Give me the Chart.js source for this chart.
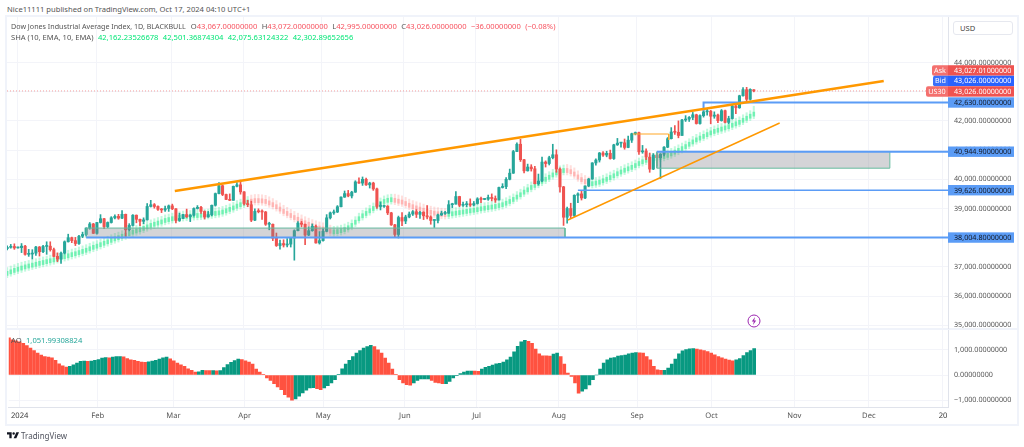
<!DOCTYPE html>
<html>
<head>
<meta charset="utf-8">
<title>US30 daily</title>
<script src="https://cdn.jsdelivr.net/npm/chart.js@4/dist/chart.umd.min.js"></script>
<style>
  html, body { margin: 0; padding: 0; background: #fff; }
  body { position: relative; width: 1024px; height: 447px; overflow: hidden; font-family: "Noto Sans", sans-serif; font-size: 7.6px; color: #555; }
  canvas { position: absolute; left: 7px; }
  #main { top: 17px; }
  #ao { top: 330px; }
  .frame { position: absolute; background: #f0f3fa; }
  .txt { position: absolute; white-space: nowrap; line-height: 10px; z-index: 2; }
  .txt span { margin-left: 4.4px; }
  .red { color: #f7525f; }
  .green { color: #00e676; }
  .teal { color: #26a69a; }
  #usd { position: absolute; left: 953px; top: 21px; width: 60px; height: 14px; box-sizing: border-box; border: 1px solid #e6e8ef; border-radius: 3px; padding-left: 6px; line-height: 12px; color: #444; }
  #bolt { position: absolute; left: 747px; top: 314px; z-index: 2; }
  #logo { position: absolute; left: 7px; top: 432px; }
</style>
</head>
<body>
<div class="frame" style="left:5px;top:15px;width:1014px;height:2px"></div>
<div class="frame" style="left:5px;top:15px;width:2px;height:411px"></div>
<div class="frame" style="left:1017px;top:15px;width:2px;height:411px"></div>
<div class="frame" style="left:5px;top:424px;width:1014px;height:2px"></div>
<div class="frame" style="left:7px;top:328px;width:1010px;height:2px"></div>

<div class="txt" style="left:7px;top:4px">Nice11111 published on TradingView.com, Oct 17, 2024 04:10 UTC+1</div>
<div class="txt" style="left:11px;top:21px"><span style="margin-left:0;font-size:7.15px">Dow Jones Industrial Average Index, 1D, BLACKBULL</span><span style="margin-left:5px">O</span><span class="red" style="margin-left:0">43,067.00000000</span><span>H</span><span class="red" style="margin-left:0">43,072.00000000</span><span>L</span><span class="red" style="margin-left:0">42,995.00000000</span><span>C</span><span class="red" style="margin-left:0">43,026.00000000</span><span class="red">−36.00000000</span><span class="red">(−0.08%)</span></div>
<div class="txt" style="left:11px;top:32px">SHA (10, EMA, 10, EMA)<span class="green">42,162.23526678</span><span class="green">42,501.36874304</span><span class="green">42,075.63124322</span><span class="green">42,302.89652656</span></div>
<div class="txt" style="left:11px;top:335px">AO<span class="teal">1,051.99308824</span></div>
<div id="usd">USD</div>
<svg id="bolt" width="14" height="14" viewBox="0 0 14 14"><circle cx="7" cy="7" r="6" fill="#fff" stroke="#9c27b0" stroke-width="1"/><path d="M8 3 L4.8 7.6 H6.8 L6 11 L9.2 6.4 H7.2 Z" fill="#9c27b0"/></svg>
<svg id="logo" width="12" height="7" viewBox="0 0 36 20"><path d="M0 0 H14 V18 H7 V7 H0 Z" fill="#131722"/><circle cx="20" cy="4" r="3.6" fill="#131722"/><path d="M28 0 H36 L28 18 H20 Z" fill="#131722"/></svg>
<div class="txt" style="left:21px;top:431px;font-size:8px;color:#50535e">TradingView</div>

<canvas id="main" width="1010" height="312"></canvas>
<canvas id="ao" width="1010" height="94"></canvas>

<script>
// month labels on the time axis, positions are in bar numbers
const tickBars = [3, 24.8, 45.9, 65.8, 87.7, 110.5, 130.5, 153.5, 175.3, 196.1, 219.2, 240, 260.7];
const tickLabels = ['2024', 'Feb', 'Mar', 'Apr', 'May', 'Jun', 'Jul', 'Aug', 'Sep', 'Oct', 'Nov', 'Dec', '20'];
const priceTicks = [35000, 36000, 37000, 38000, 39000, 40000, 41000, 42000, 43000, 44000];
const aoTicks = [-1000, 0, 1000];

// daily candles
const candleOpen = [37620,37670,37700,37650,37660,37710,37430,37440,37470,37680,37520,37700,37710,37590,37360,37270,37470,37860,38000,37900,37800,38050,38110,38330,38470,38150,38520,38650,38380,38520,38680,38730,38670,38800,38270,38420,38770,38630,38560,38610,39070,39130,39070,38970,38950,39000,39090,38990,38590,38660,38790,38720,38770,39000,39040,38900,38710,38790,39110,39510,39780,39480,39310,39280,39760,39810,39570,39170,39130,38600,38900,38890,38880,38460,38460,37980,37730,37800,37750,37780,37990,38240,38500,38460,38090,38240,38390,37820,37900,38220,38680,38850,38880,39060,39390,39510,39430,39560,39910,39870,40000,39810,39870,39670,39070,39070,39080,38850,38440,38110,38690,38570,38710,38810,38890,38800,38870,38750,38710,38590,38590,38780,38830,38840,39130,39150,39410,39110,39130,39160,39120,39170,39330,39310,39320,39380,39340,39290,39720,39750,40000,40210,40950,41200,40670,40290,40420,40360,39850,39940,40590,40540,40740,40840,40350,39740,38700,39000,38760,39450,39500,39360,39770,40010,40560,40660,40900,40830,40890,40710,41180,41240,41250,41090,41340,41560,41600,40940,40970,40760,40350,40830,40740,40860,41100,41390,41620,41610,41500,42030,42060,42120,42210,41910,42180,42310,42330,42160,42200,42010,42350,41950,42080,42510,42450,42860,43070,42740,43067];
const candleClose = [37670,37700,37650,37660,37710,37430,37450,37470,37680,37520,37700,37710,37590,37360,37270,37470,37860,38000,37900,37800,38050,38110,38330,38470,38150,38520,38650,38380,38520,38680,38730,38670,38800,38270,38420,38770,38630,38560,38610,39070,39130,39070,38970,38950,39000,39090,38990,38590,38660,38790,38720,38770,39000,39040,38900,38710,38790,39110,39510,39780,39480,39310,39280,39760,39810,39570,39170,39130,38600,38900,38890,38880,38460,38460,37980,37730,37800,37750,37780,37990,38240,38500,38460,38090,38240,38390,37820,37900,38220,38680,38850,38880,39060,39390,39510,39430,39560,39910,39870,40000,39810,39870,39670,39070,39070,39080,38850,38440,38110,38690,38570,38710,38810,38890,38800,38870,38750,38710,38590,38590,38780,38830,38840,39130,39150,39410,39110,39130,39160,39120,39170,39330,39310,39320,39380,39340,39290,39720,39750,40000,40210,40950,41200,40670,40290,40420,40360,39850,39940,40590,40540,40740,40840,40350,39740,38700,39000,38760,39450,39500,39360,39770,40010,40560,40660,40900,40830,40890,40710,41180,41240,41250,41090,41340,41560,41600,40940,40970,40760,40350,40830,40740,40860,41100,41390,41620,41610,41500,42030,42060,42120,42210,41910,42180,42310,42330,42160,42200,42010,42350,41950,42080,42510,42450,42860,43070,42740,43080,43026];
const candleHigh = [37720,37770,37790,37680,37800,37740,37600,37590,37700,37700,37740,37860,37860,37640,37480,37510,37890,38120,38020,38010,38080,38190,38340,38520,38490,38530,38790,38660,38540,38720,38780,38800,38930,38810,38480,38790,38780,38640,38680,39170,39280,39170,39090,39000,39080,39120,39150,39000,38840,38800,38980,38790,39020,39100,39070,38920,38900,39120,39530,39890,39800,39490,39500,39770,39890,39970,39580,39280,39250,38990,38990,38950,38900,38530,38470,38160,37920,37930,37970,38010,38270,38550,38560,38470,38370,38470,38430,38210,38300,38790,38880,38950,39100,39400,39600,39620,39590,39950,40050,40080,40040,39900,39900,39700,39220,39120,39100,38870,38460,38740,38860,38770,38880,38930,38960,38900,38890,39100,38750,38620,38810,38910,38900,39270,39180,39580,39420,39220,39240,39330,39240,39370,39390,39340,39460,39500,39430,39730,39850,40060,40350,40990,41250,41370,40680,40520,40500,40440,40180,40760,40630,40790,41200,41010,40390,39760,39050,39180,39470,39540,39620,39780,40030,40570,40700,40920,40950,40960,41000,41200,41400,41270,41380,41480,41580,41620,41620,41160,41040,40900,40880,40900,40880,41120,41430,41770,41840,42000,42050,42180,42150,42290,42230,42210,42350,42400,42360,42310,42230,42390,42370,42160,42530,42550,42880,43140,43150,43100,43072];
const candleLow = [37580,37640,37600,37640,37490,37400,37360,37270,37390,37370,37490,37430,37540,37340,37180,37120,37440,37850,37830,37730,37770,38000,38060,38290,38140,38120,38500,38310,38340,38500,38640,38630,38650,38050,38230,38400,38510,38410,38480,38600,39050,39010,38930,38860,38900,38900,38960,38510,38560,38650,38690,38550,38740,38980,38830,38640,38700,38750,39080,39500,39440,39300,39270,39280,39740,39490,39120,39060,38550,38580,38850,38630,38420,38270,37900,37700,37610,37680,37680,37680,37230,38230,38370,37760,38070,38220,37810,37780,37880,38200,38640,38800,38860,39050,39380,39400,39360,39550,39860,39790,39790,39700,39620,39000,38950,39040,38790,38420,38010,37990,38410,38480,38680,38760,38690,38660,38620,38640,38460,38350,38510,38760,38800,38830,39030,39150,39060,39070,39060,39070,39090,39150,39200,39300,39280,39260,39210,39290,39700,39680,39980,40200,40950,40610,40220,40280,40280,39840,39800,39920,40420,40490,40700,40240,39560,38420,38500,38650,38720,39200,39290,39340,39750,40000,40480,40590,40780,40770,40690,40680,41160,41100,41030,41080,41260,41520,40850,40890,40670,40240,40330,40460,40030,40800,41080,41380,41540,41420,41500,41980,41980,42040,41890,41890,42130,42200,41900,42090,41940,41990,41930,41900,42060,42250,42430,42850,42690,42710,42995];

// smoothed heikin ashi overlay
const shaOpen = [36710,36760,36810,36850,36890,36930,36960,36990,37020,37050,37080,37110,37140,37170,37210,37250,37280,37310,37350,37380,37420,37460,37500,37550,37600,37640,37690,37740,37790,37840,37890,37930,37980,38020,38070,38120,38160,38200,38250,38300,38350,38390,38430,38470,38520,38550,38580,38610,38630,38650,38660,38670,38680,38690,38700,38710,38720,38740,38760,38780,38810,38850,38900,38950,39010,39060,39110,39150,39320,39340,39340,39330,39310,39260,39200,39130,39050,38970,38900,38830,38760,38700,38640,38580,38530,38480,38440,38400,38370,38350,38290,38130,38140,38170,38210,38270,38350,38460,38580,38680,38760,38850,38930,39020,39100,39170,39210,39230,39350,39320,39290,39240,39180,39130,39090,39050,39010,38970,38940,38910,38890,38870,38860,38730,38750,38770,38790,38810,38830,38850,38870,38890,38920,38940,38960,38980,39000,39030,39060,39110,39170,39240,39320,39400,39490,39570,39650,39720,39790,39860,39930,40000,40080,40150,40200,40230,40370,40330,40250,40150,40060,39990,39940,39780,39800,39830,39880,39930,39990,40050,40120,40180,40240,40290,40340,40400,40470,40530,40580,40610,40630,40650,40680,40710,40750,40800,40860,40920,40980,41050,41130,41210,41280,41340,41400,41460,41520,41570,41610,41650,41690,41730,41780,41830,41880,41950,42020,42090,42162];
const shaClose = [36850,36900,36950,36990,37030,37070,37100,37130,37160,37190,37220,37250,37280,37310,37350,37390,37420,37450,37490,37520,37560,37600,37640,37690,37740,37780,37830,37880,37930,37980,38030,38070,38120,38160,38210,38260,38300,38340,38390,38440,38490,38530,38570,38610,38660,38690,38720,38750,38770,38790,38800,38810,38820,38830,38840,38850,38860,38880,38900,38920,38950,38990,39040,39090,39150,39200,39250,39290,39180,39200,39200,39190,39170,39120,39060,38990,38910,38830,38760,38690,38620,38560,38500,38440,38390,38340,38300,38260,38230,38210,38150,38270,38280,38310,38350,38410,38490,38600,38720,38820,38900,38990,39070,39160,39240,39310,39350,39370,39210,39180,39150,39100,39040,38990,38950,38910,38870,38830,38800,38770,38750,38730,38720,38870,38890,38910,38930,38950,38970,38990,39010,39030,39060,39080,39100,39120,39140,39170,39200,39250,39310,39380,39460,39540,39630,39710,39790,39860,39930,40000,40070,40140,40220,40290,40340,40370,40230,40190,40110,40010,39920,39850,39800,39920,39940,39970,40020,40070,40130,40190,40260,40320,40380,40430,40480,40540,40610,40670,40720,40750,40770,40790,40820,40850,40890,40940,41000,41060,41120,41190,41270,41350,41420,41480,41540,41600,41660,41710,41750,41790,41830,41870,41920,41970,42020,42090,42160,42230,42302];
const shaHigh = [36980,37030,37080,37120,37160,37190,37220,37250,37280,37310,37340,37370,37400,37430,37470,37510,37540,37570,37610,37640,37680,37720,37760,37810,37860,37900,37950,38000,38050,38100,38150,38190,38240,38280,38330,38380,38420,38460,38510,38560,38610,38650,38690,38730,38780,38810,38840,38870,38890,38910,38920,38930,38940,38950,38960,38970,38980,39000,39020,39040,39070,39110,39160,39210,39270,39320,39370,39410,39460,39480,39480,39470,39450,39400,39340,39270,39190,39110,39040,38970,38900,38840,38780,38720,38670,38620,38580,38540,38510,38490,38430,38390,38400,38430,38470,38530,38610,38720,38840,38940,39020,39110,39190,39280,39360,39430,39470,39490,39490,39460,39430,39380,39320,39270,39230,39190,39150,39110,39080,39050,39030,39010,39000,38990,39010,39030,39050,39070,39090,39110,39130,39150,39180,39200,39220,39240,39260,39290,39320,39370,39430,39500,39580,39660,39750,39830,39910,39980,40050,40120,40190,40260,40340,40410,40460,40490,40510,40470,40390,40290,40200,40130,40080,40040,40060,40090,40140,40190,40250,40310,40380,40440,40500,40550,40600,40660,40730,40790,40840,40870,40890,40910,40940,40970,41010,41060,41120,41180,41240,41310,41390,41470,41540,41600,41660,41720,41780,41830,41870,41910,41950,41990,42040,42090,42140,42210,42280,42350,42501];
const shaLow = [36630,36680,36730,36770,36810,36850,36880,36910,36940,36970,37000,37030,37060,37090,37130,37170,37200,37230,37270,37300,37340,37380,37420,37470,37520,37560,37610,37660,37710,37760,37810,37850,37900,37940,37990,38040,38080,38120,38170,38220,38270,38310,38350,38390,38440,38470,38500,38530,38550,38570,38580,38590,38600,38610,38620,38630,38640,38660,38680,38700,38730,38770,38820,38870,38930,38980,39030,39070,39100,39120,39120,39110,39090,39040,38980,38910,38830,38750,38680,38610,38540,38480,38420,38360,38310,38260,38220,38180,38150,38130,38070,38050,38060,38090,38130,38190,38270,38380,38500,38600,38680,38770,38850,38940,39020,39090,39130,39150,39130,39100,39070,39020,38960,38910,38870,38830,38790,38750,38720,38690,38670,38650,38640,38650,38670,38690,38710,38730,38750,38770,38790,38810,38840,38860,38880,38900,38920,38950,38980,39030,39090,39160,39240,39320,39410,39490,39570,39640,39710,39780,39850,39920,40000,40070,40120,40150,40150,40110,40030,39930,39840,39770,39720,39700,39720,39750,39800,39850,39910,39970,40040,40100,40160,40210,40260,40320,40390,40450,40500,40530,40550,40570,40600,40630,40670,40720,40780,40840,40900,40970,41050,41130,41200,41260,41320,41380,41440,41490,41530,41570,41610,41650,41700,41750,41800,41870,41940,42010,42075];

// awesome oscillator
const aoValues = [1478,1400,1360,1320,1267,1175,1070,977,871,792,739,713,686,581,449,370,317,343,409,475,541,554,541,554,581,620,673,700,686,713,739,739,726,660,607,581,541,515,510,528,554,581,634,686,713,647,568,475,409,343,251,185,119,132,185,180,175,178,170,180,300,420,510,580,634,620,568,515,435,238,119,13,-119,-211,-343,-475,-580,-779,-884,-1003,-950,-845,-713,-607,-515,-502,-541,-580,-515,-422,-317,-185,13,251,435,581,739,871,977,1070,1135,1188,1135,1003,871,673,475,238,13,-185,-317,-383,-409,-317,-211,-158,-157,-156,-211,-290,-317,-343,-340,-250,-119,-26,53,119,158,160,155,150,238,304,343,396,449,462,515,607,713,924,1148,1320,1386,1346,1267,1030,845,766,760,755,832,871,739,435,79,-53,-317,-726,-647,-554,-396,-185,0,238,475,607,673,700,752,779,792,845,871,898,884,871,739,607,343,211,185,190,277,435,634,845,964,1016,1043,1056,1030,1003,977,937,871,805,739,686,634,594,568,607,660,779,898,977,1052];

// drawings on the price pane, x in bar numbers and y in price
const trendMain = [{ x: 46.7, y: 39599 }, { x: 244.2, y: 43366 }];
const trendLow = [{ x: 156.2, y: 38606 }, { x: 215.2, y: 41928 }];
const shortRange = [{ x: 174.3, y: 41551 }, { x: 184.3, y: 41551 }, { x: 184.3, y: 41346 }];
const level38004 = [{ x: 22, y: 38004.8 }, { x: 262.1, y: 38004.8 }];
const level39626 = [{ x: 159, y: 39626 }, { x: 262.1, y: 39626 }];
const level40944 = [{ x: 181, y: 40944.9 }, { x: 262.1, y: 40944.9 }];
const level42630 = [{ x: 194, y: 42339 }, { x: 194, y: 42630 }, { x: 262.1, y: 42630 }];
const lastPrice = [{ x: -0.05, y: 43026 }, { x: 262.1, y: 43026 }];
const zoneLeftTop = [{ x: 22, y: 38330 }, { x: 155.4, y: 38330 }];
const zoneLeftEdge = [{ x: 22, y: 38005 }, { x: 22, y: 38330 }, { x: 155.4, y: 38330 }, { x: 155.4, y: 38005 }];
const zoneRightTop = [{ x: 181, y: 40944.9 }, { x: 245.9, y: 40944.9 }];
const zoneRightEdge = [{ x: 181, y: 40945 }, { x: 181, y: 40380 }, { x: 245.9, y: 40380 }, { x: 245.9, y: 40945 }];

// price tags on the axis
const tagValues = [43026, 43026, 43026, 42630, 40944.9, 39626, 38004.8];
const tagTexts = ['43,027.01000000', '43,026.00000000', '43,026.00000000', '42,630.00000000', '40,944.90000000', '39,626.00000000', '38,004.80000000'];
const tagChips = ['Ask', 'Bid', 'US30', '', '', '', ''];

const GREEN = '#26a69a', RED = '#ef5350';
const FONT = '"Noto Sans", sans-serif';
const AXIS_FONT = { size: 7.2 };
Chart.defaults.font.family = FONT;
Chart.defaults.font.size = 7.6;
Chart.defaults.animation = false;

// keep canvas text spacing the same as the page text
Chart.register({
  id: 'preciseText',
  beforeDraw(chart) { chart.ctx.textRendering = 'geometricPrecision'; }
});

const candleColor = i => candleClose[i] >= candleOpen[i] ? GREEN : RED;
const shaUp = i => shaClose[i] >= shaOpen[i];

function floatBars(lo, hi, color, thickness, order) {
  return {
    type: 'bar',
    data: lo.map((v, i) => ({ x: i, y: [v, hi[i]] })),
    backgroundColor: lo.map((v, i) => color(i)),
    barThickness: thickness,
    grouped: false,
    minBarLength: 1,
    order
  };
}

function drawing(points, color, width, order, extra) {
  return Object.assign({ type: 'line', data: points, borderColor: color, borderWidth: width, pointRadius: 0, tension: 0, fill: false, order }, extra);
}

function moneyLabel(v) {
  return (v < 0 ? '−' : '') + Math.abs(v).toLocaleString('en-US', { minimumFractionDigits: 8, maximumFractionDigits: 8 });
}

function setTicks(values) {
  return scale => { scale.ticks = values.map(value => ({ value })); };
}

// fixed axis strip, and no room kept for half labels at the pane ends
const axisRight = scale => {
  scale.width = 69;
  scale.paddingTop = 0;
  scale.paddingBottom = 0;
};
const GRID = '#f3f4f9';

// paints the coloured labels next to and on the price axis
const priceTags = {
  id: 'priceTags',
  afterDraw(chart) {
    const { ctx, chartArea, scales } = chart;
    const tagFill = ['#ef5350', '#2962ff', '#ef5350', '#5b9cf6', '#5b9cf6', '#5b9cf6', '#5b9cf6'];
    const chipFill = ['#f4706e', '#3a6ffa', '#f4706e'];
    const chipWidth = [16, 15, 22];
    const lift = [-20.5, -10, 0.5, 0, 0, 0, 0];
    ctx.save();
    ctx.font = '7.2px ' + FONT;
    ctx.textBaseline = 'middle';
    tagValues.forEach((v, i) => {
      const y = scales.y.getPixelForValue(v) + lift[i];
      const x = chartArea.right;
      ctx.fillStyle = tagFill[i];
      ctx.fillRect(x, y - 5.2, 66, 10.4);
      ctx.fillStyle = i < 3 ? '#fff' : '#131722';
      ctx.textAlign = 'left';
      ctx.fillText(tagTexts[i], x + 6, y + 0.3);
      if (tagChips[i]) {
        ctx.fillStyle = chipFill[i];
        ctx.beginPath();
        ctx.roundRect(x - chipWidth[i], y - 5.2, chipWidth[i], 10.4, [2, 0, 0, 2]);
        ctx.fill();
        ctx.fillStyle = '#fff';
        ctx.textAlign = 'center';
        ctx.fillText(tagChips[i], x - chipWidth[i] / 2, y + 0.3);
      }
    });
    ctx.restore();
  }
};

const xRange = { min: -0.05, max: 262.1 };

new Chart(document.getElementById('main'), {
  type: 'bar',
  data: {
    datasets: [
      // price overlays
      drawing(trendMain, '#ff9800', 2.6, 1),
      drawing(trendLow, '#ff9800', 1.4, 1),
      drawing(shortRange, '#ffa726', 1, 1),
      drawing(level38004, '#5b9cf6', 2, 1),
      drawing(level39626, '#5b9cf6', 1.6, 1),
      drawing(level40944, '#5b9cf6', 2, 1),
      drawing(level42630, '#5b9cf6', 2, 1),
      drawing(lastPrice, 'rgba(239,83,80,0.55)', 1, 1, { borderDash: [1, 2] }),
      drawing(zoneLeftEdge, '#66bb9f', 1, 2),
      drawing(zoneRightEdge, '#66bb9f', 1, 2),
      drawing(zoneLeftTop, 'transparent', 0, 3, { fill: { value: 38005 }, backgroundColor: 'rgba(130,130,138,0.34)' }),
      drawing(zoneRightTop, 'transparent', 0, 3, { fill: { value: 40380 }, backgroundColor: 'rgba(130,130,138,0.34)' }),
      // candles
      floatBars(candleOpen.map((v, i) => Math.min(v, candleClose[i])), candleOpen.map((v, i) => Math.max(v, candleClose[i])), candleColor, 2.4, 5),
      floatBars(candleLow, candleHigh, candleColor, 1, 6),
      // smoothed heikin ashi
      floatBars(shaOpen.map((v, i) => Math.min(v, shaClose[i])), shaOpen.map((v, i) => Math.max(v, shaClose[i])), i => shaUp(i) ? 'rgba(0,230,118,0.42)' : 'rgba(255,82,82,0.3)', 2, 7),
      floatBars(shaLow, shaHigh, i => shaUp(i) ? 'rgba(105,240,174,0.42)' : 'rgba(255,138,128,0.28)', 1.4, 8)
    ]
  },
  options: {
    responsive: false,
    devicePixelRatio: 1,
    layout: { padding: 0 },
    plugins: { legend: { display: false }, tooltip: { enabled: false } },
    scales: {
      x: {
        type: 'linear', offset: false, min: xRange.min, max: xRange.max,
        afterBuildTicks: setTicks(tickBars),
        ticks: { display: false, autoSkip: false },
        grid: { color: GRID, offset: false, drawTicks: false },
        border: { display: false }
      },
      y: {
        position: 'right', min: 34873, max: 45558,
        afterBuildTicks: setTicks(priceTicks),
        afterFit: axisRight,
        ticks: { callback: moneyLabel, color: '#555', padding: 6, autoSkip: false, font: AXIS_FONT },
        grid: { color: GRID, drawTicks: false },
        border: { color: '#e0e3eb' }
      }
    }
  },
  plugins: [priceTags]
});

new Chart(document.getElementById('ao'), {
  type: 'bar',
  data: {
    datasets: [{
      data: aoValues.map((v, i) => ({ x: i, y: v })),
      backgroundColor: aoValues.map((v, i) => i > 0 && v >= aoValues[i - 1] ? '#089981' : '#ff5240'),
      barThickness: 3
    }]
  },
  options: {
    responsive: false,
    devicePixelRatio: 1,
    layout: { padding: 0 },
    plugins: { legend: { display: false }, tooltip: { enabled: false } },
    scales: {
      x: {
        type: 'linear', offset: false, min: xRange.min, max: xRange.max,
        afterBuildTicks: setTicks(tickBars),
        afterFit: scale => { scale.height = 17; },
        ticks: {
          callback: (v, i) => tickLabels[i], autoSkip: false, maxRotation: 0, padding: 4,
          color: ctx => ctx.index === 0 || ctx.index === 12 ? '#333' : '#555'
        },
        grid: { color: GRID, offset: false, drawTicks: false },
        border: { color: '#e0e3eb' }
      },
      y: {
        position: 'right', min: -1274, max: 1794,
        afterBuildTicks: setTicks(aoTicks),
        afterFit: axisRight,
        ticks: { callback: moneyLabel, color: '#555', padding: 6, autoSkip: false, font: AXIS_FONT },
        grid: { color: GRID, drawTicks: false },
        border: { color: '#e0e3eb' }
      }
    }
  }
});
</script>
</body>
</html>
